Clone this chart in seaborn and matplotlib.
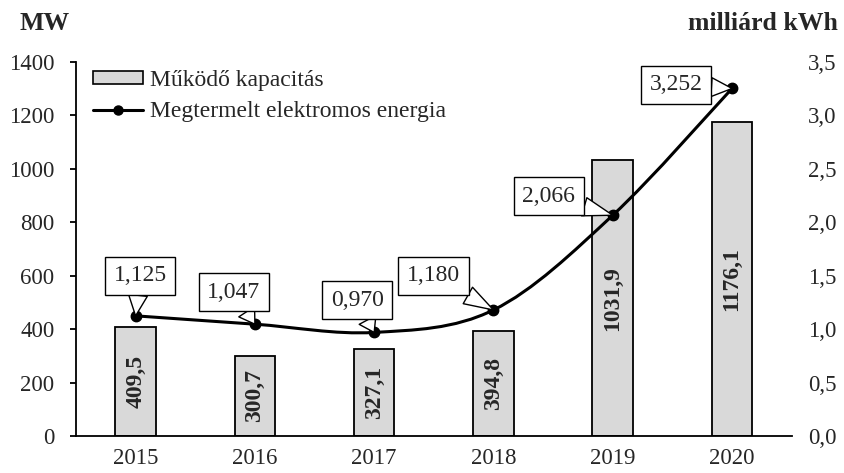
import numpy as np
import matplotlib
matplotlib.use("Agg")
import matplotlib.pyplot as plt
from matplotlib.path import Path
from matplotlib.patches import PathPatch, Patch
from matplotlib.lines import Line2D
import seaborn as sns

years = ["2015", "2016", "2017", "2018", "2019", "2020"]
capacity_mw = [409.5, 300.7, 327.1, 394.8, 1031.9, 1176.1]
energy_twh = [1.125, 1.047, 0.970, 1.180, 2.066, 3.252]

left_ticks = [0, 200, 400, 600, 800, 1000, 1200, 1400]
right_ticks = [0.0, 0.5, 1.0, 1.5, 2.0, 2.5, 3.0, 3.5]

# callout box offsets from the point, in pixels
callout_offsets = [(4.5, 40), (-21, 32), (-17, 32), (-60, 34), (-64, 19), (-56, 3.5)]

sns.set_style("white")
plt.rcParams["font.family"] = ["Liberation Serif", "DejaVu Serif"]
plt.rcParams["font.size"] = 16

fig = plt.figure(figsize=(8.44, 4.73), dpi=100)
ax = fig.add_axes([0.090, 0.078, 0.848, 0.791])

sns.barplot(x=years, y=capacity_mw, color="#d9d9d9", edgecolor="black",
            linewidth=1.3, width=0.34, saturation=1, ax=ax)
ax.set_xlim(-0.5, 5.5)
ax.set_ylim(0, 1400)
ax.set_yticks(left_ticks)
ax.set_xticks(range(len(years)))
ax.set_xticklabels(years)
ax.set_xticks(np.arange(-0.5, len(years), 1.0), minor=True)
ax.tick_params(axis="x", which="major", length=0, pad=8.5, labelsize=16.5)
ax.tick_params(axis="x", which="minor", length=5, width=1.3, color="black", direction="out")
ax.tick_params(axis="y", length=4.5, width=1.3, color="black", direction="out",
               pad=11, labelsize=16.5)
for side in ["top", "right"]:
    ax.spines[side].set_visible(False)
for side in ["left", "bottom"]:
    ax.spines[side].set_color("black")
    ax.spines[side].set_linewidth(1.3)
ax.set_xlabel("")
ax.set_ylabel("")

for i, v in enumerate(capacity_mw):
    ax.text(i, v / 2, f"{v:.1f}".replace(".", ","), rotation=90, ha="center",
            va="center", fontweight="bold", fontsize=17)

ax2 = ax.twinx()
ax2.set_ylim(0, 3.5)
ax2.set_yticks(right_ticks)
ax2.set_yticklabels([f"{t:.1f}".replace(".", ",") for t in right_ticks])
ax2.tick_params(axis="y", length=0, pad=11.5, labelsize=16.5)
for side in ["top", "right", "left", "bottom"]:
    ax2.spines[side].set_visible(False)

# smoothed line (Excel-style Catmull-Rom bezier)
xs = np.arange(len(energy_twh), dtype=float)
ys = np.array(energy_twh)
verts = [(xs[0], ys[0])]
codes = [Path.MOVETO]
n = len(xs)
for i in range(n - 1):
    p0 = np.array([xs[max(i - 1, 0)], ys[max(i - 1, 0)]])
    p1 = np.array([xs[i], ys[i]])
    p2 = np.array([xs[i + 1], ys[i + 1]])
    p3 = np.array([xs[min(i + 2, n - 1)], ys[min(i + 2, n - 1)]])
    c1 = p1 + (p2 - p0) / 6
    c2 = p2 - (p3 - p1) / 6
    verts += [tuple(c1), tuple(c2), tuple(p2)]
    codes += [Path.CURVE4] * 3
ax2.add_patch(PathPatch(Path(verts, codes), fill=False, edgecolor="black",
                        linewidth=2.2, zorder=3))
ax2.plot(xs, ys, linestyle="none", marker="o", markersize=7.5, color="black", zorder=4)

for i, v in enumerate(energy_twh):
    ax2.annotate(f"{v:.3f}".replace(".", ","), xy=(i, v), xytext=callout_offsets[i],
                 textcoords="offset pixels", ha="center", va="center", fontsize=17,
                 bbox=dict(boxstyle="square,pad=0.36", fc="white", ec="black", lw=1.0),
                 arrowprops=dict(arrowstyle="wedge,tail_width=0.8", fc="white",
                                 ec="black", lw=1.0, shrinkA=0, shrinkB=0),
                 zorder=5)

handles = [
    Patch(facecolor="#d9d9d9", edgecolor="black", linewidth=1.2),
    Line2D([0], [0], color="black", linewidth=2.2, marker="o", markersize=6.5),
]
ax.legend(handles, ["Működő kapacitás", "Megtermelt elektromos energia"],
          loc="upper left", bbox_to_anchor=(0.024, 0.979), frameon=False,
          borderpad=0, borderaxespad=0, handlelength=2.1, handleheight=0.5,
          handletextpad=0.3, labelspacing=0.45, fontsize=17)

fig.text(20 / 844, 1 - 23 / 473, "MW", fontweight="bold", fontsize=18.5,
         va="center", ha="left")
fig.text(838 / 844, 1 - 23 / 473, "milliárd kWh", fontweight="bold", fontsize=18.5,
         va="center", ha="right")

fig.savefig("out.png", dpi=100)
